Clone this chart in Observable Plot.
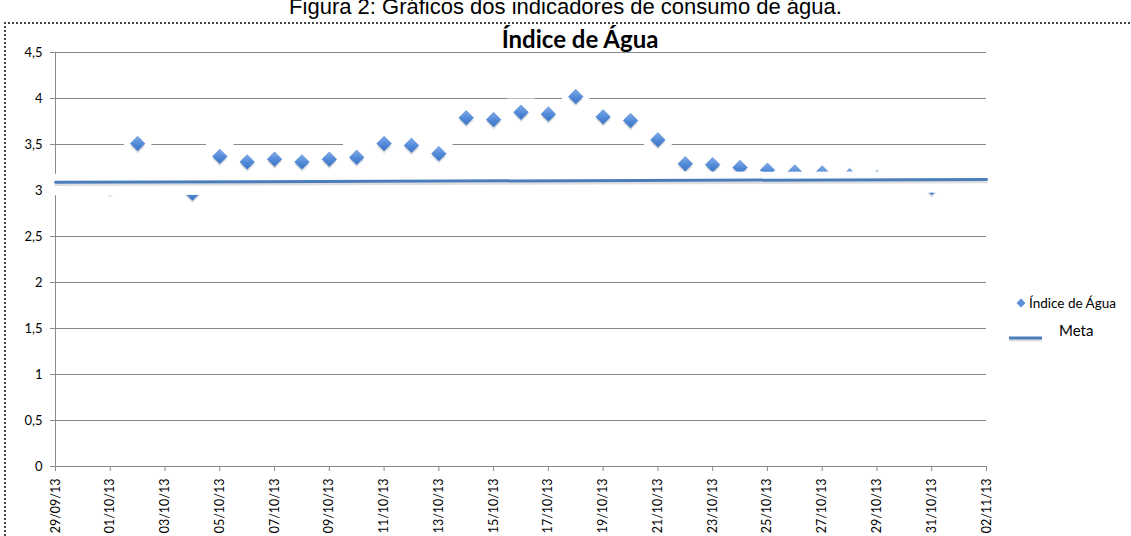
<!DOCTYPE html>
<html><head><meta charset="utf-8">
<script src="https://cdn.jsdelivr.net/npm/d3@7"></script>
<script src="https://cdn.jsdelivr.net/npm/@observablehq/plot@0.6"></script>
<style>
html,body{margin:0;padding:0;background:#fff;}
#wrap{position:relative;width:1131px;height:536px;overflow:hidden;font-family:Lato,sans-serif;color:#000;}
#chart{position:absolute;left:0;top:0;}
.fig{position:absolute;left:0;width:1131px;top:-6px;text-align:center;font-family:"Liberation Sans",Arial,sans-serif;font-size:22px;white-space:nowrap;}
.border{position:absolute;left:4px;top:22px;width:1200px;height:600px;border-top:2px dotted #444;border-left:2px dotted #444;}
.title{position:absolute;left:0;width:1160px;top:24px;text-align:center;font-weight:bold;font-size:24px;white-space:nowrap;}
.leg1{position:absolute;left:1015px;top:295px;font-size:13.5px;white-space:nowrap;display:flex;align-items:center;}
.leg2{position:absolute;left:1008px;top:323px;font-size:15px;white-space:nowrap;}
</style></head>
<body>
<div id="wrap">
  <div class="fig">Figura 2: Gráficos dos indicadores de consumo de água.</div>
  <div class="border"></div>
  <div id="chart"></div>
  <div class="title">Índice de Água</div>
  <div class="leg1"><svg width="12" height="12" style="margin-right:2px"><path d="M6,1.5L10.5,6L6,10.5L1.5,6Z" fill="#5a8fda"/></svg>Índice de Água</div>
  <div class="leg2"><svg width="36" height="20" style="vertical-align:middle"><line x1="1" x2="34" y1="14" y2="14" stroke="#4A7EBB" stroke-width="3"/><line x1="1" x2="34" y1="16.5" y2="16.5" stroke="#000" stroke-opacity="0.12" stroke-width="2"/></svg><span style="position:relative;left:15px;top:-2px">Meta</span></div>
</div>
<script>
const dates = ["2013-10-01","2013-10-02","2013-10-04","2013-10-05","2013-10-06","2013-10-07","2013-10-08","2013-10-09","2013-10-10","2013-10-11","2013-10-12","2013-10-13","2013-10-14","2013-10-15","2013-10-16","2013-10-17","2013-10-18","2013-10-19","2013-10-20","2013-10-21","2013-10-22","2013-10-23","2013-10-24","2013-10-25","2013-10-26","2013-10-27","2013-10-28","2013-10-29","2013-10-31"];
const indiceAgua = [3.03,3.51,2.97,3.37,3.31,3.34,3.31,3.34,3.36,3.51,3.49,3.40,3.79,3.77,3.85,3.83,4.02,3.80,3.76,3.55,3.29,3.28,3.25,3.22,3.20,3.19,3.16,3.14,3.03];
const metaDates = ["2013-09-29","2013-11-02"];
const metaValues = [3.09,3.12];
const yTicks = [0,0.5,1,1.5,2,2.5,3,3.5,4,4.5];
const xStart = "2013-09-29", xEnd = "2013-11-02";

const pts = dates.map((d,i)=>({date:new Date(d), v:indiceAgua[i]}));
const meta = metaDates.map((d,i)=>({date:new Date(d), v:metaValues[i]}));
const x0 = new Date(xStart), x1 = new Date(xEnd);
const xTicks = d3.utcDay.range(x0, d3.utcDay.offset(x1,1), 2);
const grid = "#8a8a8a";

const svg = Plot.plot({
  width:1131, height:536,
  marginLeft:55, marginRight:145, marginTop:52, marginBottom:70,
  x:{type:"utc", domain:[x0,x1]},
  y:{domain:[0,4.5]},
  style:{fontFamily:"Lato, sans-serif", background:"transparent", color:"#000"},
  marks:[
    Plot.gridY(yTicks, {stroke:grid, strokeOpacity:1}),
    Plot.ruleX([x0], {stroke:grid}),
    Plot.ruleY([0], {stroke:grid}),
    Plot.axisY(yTicks, {tickSize:5, tickPadding:8, tickFormat:d=>String(d).replace(".",","), fontSize:13, stroke:grid, label:null}),
    Plot.axisX(xTicks, {tickSize:5, tickPadding:7, tickRotate:-90, tickFormat:d3.utcFormat("%d/%m/%y"), fontSize:12.5, stroke:grid, label:null}),
    Plot.dot(pts, {x:"date", y:"v", symbol:"square", r:15.5, fill:"white"}),
    Plot.dot(pts, {x:"date", y:"v", symbol:"diamond2", r:6.6, fill:"#000", fillOpacity:0.13, dy:2.5}),
    Plot.dot(pts, {x:"date", y:"v", symbol:"diamond2", r:6.6, fill:"url(#dgrad)", stroke:"#4a7fcc", strokeWidth:0.6}),
    Plot.line(meta, {x:"date", y:"v", stroke:"white", strokeWidth:21.5, dy:2.25, strokeLinecap:"square"}),
    Plot.line(meta, {x:"date", y:"v", stroke:"#000", strokeOpacity:0.13, strokeWidth:2.5, dy:2.6}),
    Plot.line(meta, {x:"date", y:"v", stroke:"#4A7EBB", strokeWidth:3})
  ]
});
const defs = d3.select(svg).insert("defs",":first-child");
const g = defs.append("linearGradient").attr("id","dgrad").attr("x1","0").attr("y1","0").attr("x2","0").attr("y2","1");
g.append("stop").attr("offset","0%").attr("stop-color","#82abe8");
g.append("stop").attr("offset","55%").attr("stop-color","#5089d8");
g.append("stop").attr("offset","100%").attr("stop-color","#3d73c4");
document.getElementById("chart").appendChild(svg);
</script>
</body></html>
